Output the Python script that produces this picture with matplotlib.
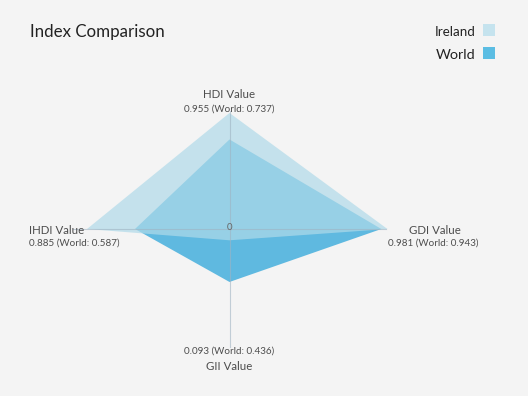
import numpy as np
import matplotlib
matplotlib.use("Agg")
import matplotlib.pyplot as plt
from matplotlib.patches import Rectangle

# data: axes go clockwise from the top
indices = ["HDI Value", "GDI Value", "GII Value", "IHDI Value"]
ireland = [0.955, 0.981, 0.093, 0.885]
world = [0.737, 0.943, 0.436, 0.587]

plt.rcParams['font.family'] = ['Lato', 'DejaVu Sans']
bg = '#f4f4f4'
W, H = 528, 396

fig = plt.figure(figsize=(W / 100, H / 100), dpi=100, facecolor=bg)

# radar area in pixels: centre (229, 229), radius 161 wide, 121.5 high
cx, cy, rx, ry = 229.5, 229, 161, 121.5
ax = fig.add_axes([(cx - rx) / W, 1 - (cy + ry) / H, 2 * rx / W, 2 * ry / H])
ax.set_xlim(-1, 1)
ax.set_ylim(-1, 1)
ax.axis('off')
ax.set_facecolor(bg)

angles = np.pi / 2 - np.arange(len(indices)) * 2 * np.pi / len(indices)
dx = np.cos(angles)
dy = np.sin(angles)

wx = np.array(world) * dx
wy = np.array(world) * dy
ix = np.array(ireland) * dx
iy = np.array(ireland) * dy

ax.fill(wx, wy, color='#5fb9e0', lw=0, zorder=2)
ax.fill(ix, iy, color='#b0dae9', alpha=0.7, lw=0, zorder=3)

for x, y in zip(dx, dy):
    ax.plot([0, x * 0.97], [0, y * 0.97], color='#9fb3c2', lw=0.8, alpha=0.6, zorder=4)

ax.text(0, 0.01, "0", ha='center', va='center', fontsize=7, color='#666666', zorder=5)


def px(x, y):
    return x / W, 1 - y / H


lab_c = '#4d4d4d'
val_c = '#4d4d4d'
vfs = 7.1
# HDI (top)
fig.text(*px(229, 94), indices[0], ha='center', va='center', fontsize=8.3, color=lab_c)
fig.text(*px(229, 109), "%.3f (World: %.3f)" % (ireland[0], world[0]),
         ha='center', va='center', fontsize=vfs, color=val_c)
# GDI (right)
fig.text(*px(435, 230), indices[1], ha='center', va='center', fontsize=8.3, color=lab_c)
fig.text(*px(433, 243), "%.3f (World: %.3f)" % (ireland[1], world[1]),
         ha='center', va='center', fontsize=vfs, color=val_c)
# GII (bottom)
fig.text(*px(229, 351), "%.3f (World: %.3f)" % (ireland[2], world[2]),
         ha='center', va='center', fontsize=vfs, color=val_c)
fig.text(*px(229, 366), indices[2], ha='center', va='center', fontsize=8.3, color=lab_c)
# IHDI (left)
fig.text(*px(29, 230), indices[3], ha='left', va='center', fontsize=8.3, color=lab_c)
fig.text(*px(29, 243), "%.3f (World: %.3f)" % (ireland[3], world[3]),
         ha='left', va='center', fontsize=vfs, color=val_c)

# title
fig.text(*px(30, 32), "Index Comparison", ha='left', va='center', fontsize=12.2, color='#222222')

# legend
fig.text(*px(476, 32), "Ireland", ha='right', va='center', fontsize=9.6, color='#222222')
fig.text(*px(476, 55), "World", ha='right', va='center', fontsize=10.4, color='#222222')
fig.patches.append(Rectangle(px(483, 36), 12 / W, 12 / H, transform=fig.transFigure,
                             color='#c5e3ee', lw=0))
fig.patches.append(Rectangle(px(483, 59), 12 / W, 12 / H, transform=fig.transFigure,
                             color='#5bbde3', lw=0))

fig.savefig("out.png", dpi=100, facecolor=bg)
